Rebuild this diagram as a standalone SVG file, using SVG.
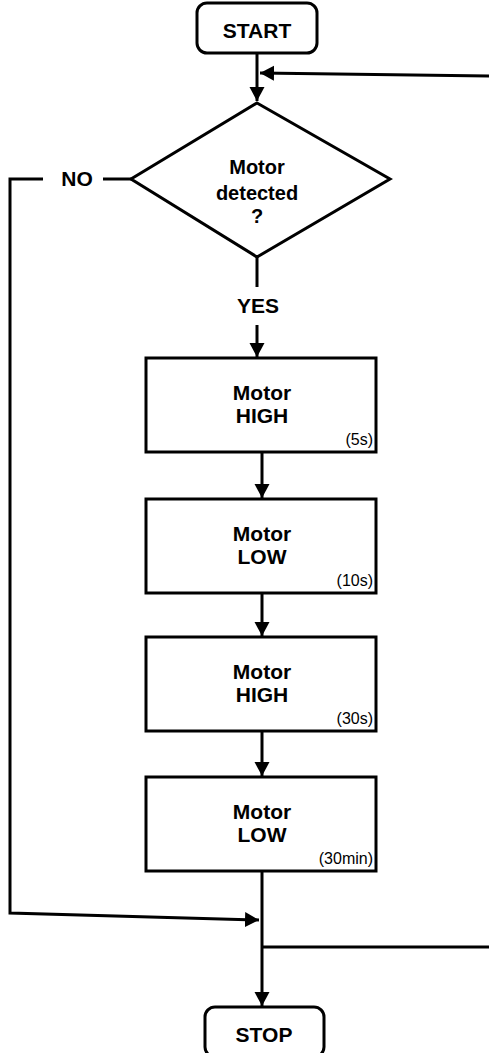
<svg xmlns="http://www.w3.org/2000/svg" width="489" height="1053" viewBox="0 0 489 1053">
<style>
.shape{fill:#fff;stroke:#000;stroke-width:3}
.conn{fill:none;stroke:#000;stroke-width:3}
.t{font-family:"Liberation Sans",Arial,sans-serif;font-weight:bold;font-size:21px;fill:#000;text-anchor:middle}
.td{font-size:20px}
.s{font-family:"Liberation Sans",Arial,sans-serif;font-size:16px;fill:#000;text-anchor:end}
</style>
<defs>
<marker id="ah" markerUnits="userSpaceOnUse" markerWidth="15" markerHeight="16" refX="14" refY="7.5" orient="auto">
<path d="M0,0 L14,7.5 L0,15 z" fill="#000"/>
</marker>
</defs>
<rect width="489" height="1053" fill="#fff"/>
<g id="connectors">
<path class="conn" d="M257,53 V101" marker-end="url(#ah)"/>
<path class="conn" d="M489,76 L260,73" marker-end="url(#ah)"/>
<path class="conn" d="M131,179 H103"/>
<path class="conn" d="M43,179 H10 V913 L259,920" marker-end="url(#ah)"/>
<path class="conn" d="M257,257 V287"/>
<path class="conn" d="M257,325 V357" marker-end="url(#ah)"/>
<path class="conn" d="M262,452 V498" marker-end="url(#ah)"/>
<path class="conn" d="M262,593 V636" marker-end="url(#ah)"/>
<path class="conn" d="M262,731 V776" marker-end="url(#ah)"/>
<path class="conn" d="M262,871 V1006" marker-end="url(#ah)"/>
<path class="conn" d="M262,947 H489"/>
<text class="t" x="77" y="186">NO</text>
<text class="t" x="258" y="313">YES</text>
</g>
<g id="start">
<rect class="shape" x="197" y="3" width="120" height="50" rx="10"/>
<text class="t" x="257" y="38">START</text>
</g>
<g id="decision">
<polygon class="shape" points="257,103 390,179 257,257 131,179"/>
<text class="t td" x="257" y="174">Motor</text>
<text class="t td" x="257" y="200">detected</text>
<text class="t td" x="257" y="223">?</text>
</g>
<g id="high5">
<rect class="shape" x="146" y="358" width="230" height="94"/>
<text class="t" x="262" y="400">Motor</text>
<text class="t" x="262" y="423">HIGH</text>
<text class="s" x="373" y="445">(5s)</text>
</g>
<g id="low10">
<rect class="shape" x="146" y="499" width="230" height="94"/>
<text class="t" x="262" y="541">Motor</text>
<text class="t" x="262" y="564">LOW</text>
<text class="s" x="373" y="586">(10s)</text>
</g>
<g id="high30">
<rect class="shape" x="146" y="637" width="230" height="94"/>
<text class="t" x="262" y="679">Motor</text>
<text class="t" x="262" y="702">HIGH</text>
<text class="s" x="373" y="724">(30s)</text>
</g>
<g id="low30min">
<rect class="shape" x="146" y="777" width="230" height="94"/>
<text class="t" x="262" y="819">Motor</text>
<text class="t" x="262" y="842">LOW</text>
<text class="s" x="373" y="864">(30min)</text>
</g>
<g id="stop">
<rect class="shape" x="205" y="1007" width="119" height="50" rx="10"/>
<text class="t" x="264" y="1042">STOP</text>
</g>
</svg>
